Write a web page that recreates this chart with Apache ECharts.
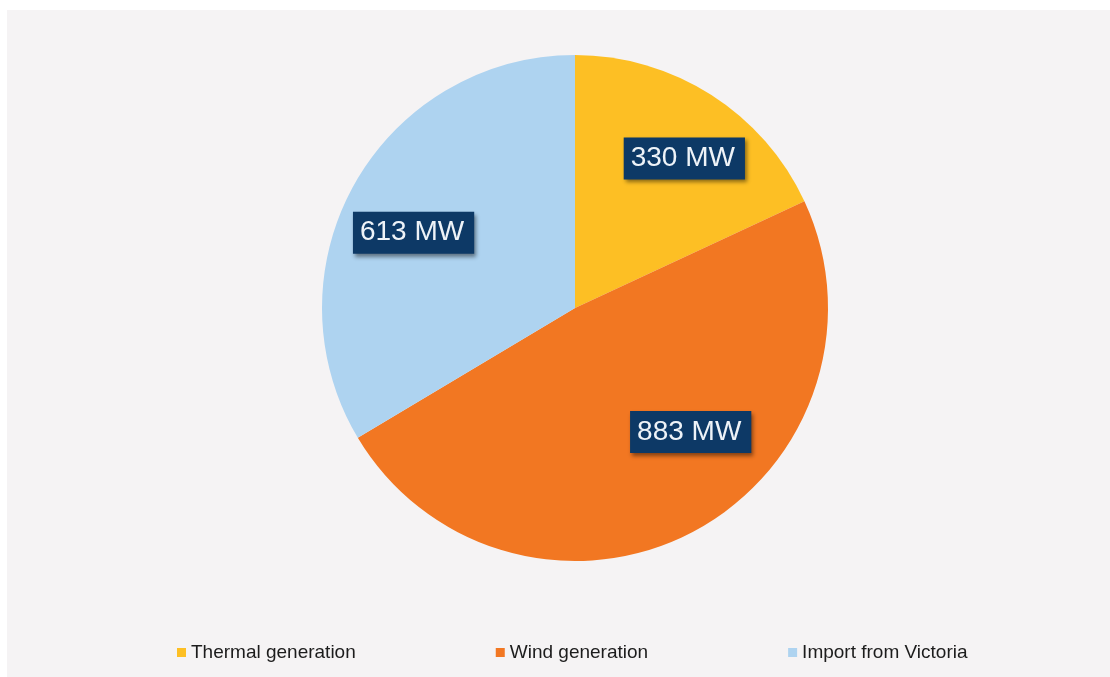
<!DOCTYPE html>
<html>
<head>
<meta charset="utf-8">
<script src="https://cdn.jsdelivr.net/npm/echarts@6/dist/echarts.min.js"></script>
<style>
html,body{margin:0;padding:0;background:#ffffff;width:1110px;height:677px;overflow:hidden;}
#chart{position:absolute;left:7px;top:10px;width:1103px;height:667px;background:#f5f3f4;}
</style>
</head>
<body>
<div id="chart"></div>
<script>
const categories = ['Thermal generation', 'Wind generation', 'Import from Victoria'];
const values = [330, 883, 613];
const unit = 'MW';
const colors = ['#fdbf24', '#f27722', '#aed3f0'];
// label nudges (style only)
const labelOffsets = [[12, 3], [31, -36], [-4, 14]];

const chart = echarts.init(document.getElementById('chart'), null, {renderer: 'canvas'});
const pieData = categories.map((c, i) => ({name: c, value: values[i], itemStyle: {color: colors[i]}}));
const labelData = categories.map((c, i) => ({name: c, value: values[i], label: {offset: labelOffsets[i]}}));

chart.setOption({
  animation: false,
  legend: {
    data: categories,
    left: 165,
    top: 628,
    icon: 'rect',
    itemWidth: 9,
    itemHeight: 9,
    itemGap: 140,
    textStyle: {fontFamily: 'Liberation Sans, Arial, sans-serif', fontSize: 19, color: '#1c1c1c'},
    selectedMode: false
  },
  series: [
    {
      type: 'pie',
      center: [568, 298],
      radius: [0, 253],
      startAngle: 90,
      clockwise: true,
      label: {show: false},
      labelLine: {show: false},
      itemStyle: {borderWidth: 0},
      emphasis: {disabled: true},
      data: pieData
    },
    {
      type: 'pie',
      center: [568, 298],
      radius: [0, 356],
      startAngle: 90,
      clockwise: true,
      silent: true,
      itemStyle: {color: 'rgba(0,0,0,0)'},
      labelLine: {show: false},
      emphasis: {disabled: true},
      label: {
        show: true,
        position: 'inside',
        formatter: p => p.value + ' ' + unit,
        fontFamily: 'Liberation Sans, Arial, sans-serif',
        fontSize: 28,
        color: '#eef3f8',
        backgroundColor: '#0d3966',
        padding: [7, 10, 7, 7],
        shadowColor: 'rgba(0,0,0,0.45)',
        shadowBlur: 4,
        shadowOffsetX: 2,
        shadowOffsetY: 3
      },
      data: labelData
    }
  ]
});
</script>
</body>
</html>
